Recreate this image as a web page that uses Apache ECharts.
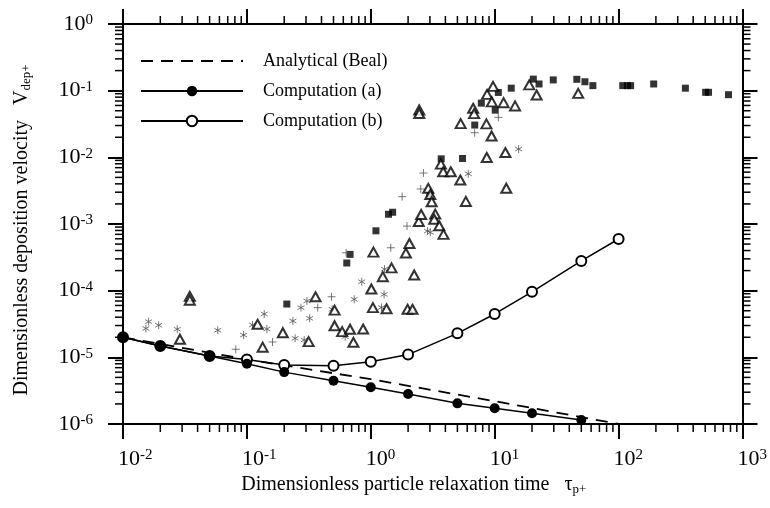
<!DOCTYPE html>
<html>
<head>
<meta charset="utf-8">
<script src="https://cdn.jsdelivr.net/npm/echarts@6/dist/echarts.min.js"></script>
<style>
  html, body { margin: 0; padding: 0; background: #fff; }
  #chart { width: 770px; height: 508px; }
</style>
</head>
<body>
<div id="chart"></div>
<script>
// Deposition velocity vs. particle relaxation time (log-log)

// Axis ranges
const xRange = [1e-2, 1e3];
const yRange = [1e-6, 1e0];

// Analytical model (Beal)
const bealTau = [0.01, 0.1, 1, 10, 100];
const bealV   = [2.0e-5, 9.3e-6, 4.7e-6, 2.2e-6, 1.0e-6];

// Computation (a)
const compATau = [0.01, 0.02, 0.05, 0.1, 0.2, 0.5, 1, 2, 5, 10, 20, 50];
const compAV   = [2.0e-5, 1.48e-5, 1.05e-5, 8.0e-6, 6.0e-6, 4.45e-6, 3.55e-6, 2.82e-6, 2.04e-6, 1.72e-6, 1.45e-6, 1.15e-6];

// Computation (b)
const compBTau = [0.01, 0.02, 0.05, 0.1, 0.2, 0.5, 1, 2, 5, 10, 20, 50, 100];
const compBV   = [2.0e-5, 1.48e-5, 1.05e-5, 9.3e-6, 7.7e-6, 7.5e-6, 8.6e-6, 1.1e-5, 2.29e-5, 4.47e-5, 9.6e-5, 2.79e-4, 5.96e-4];

// Experimental data sets: [tau_p+, V_dep+]
const expSquares = [
  [0.21, 6.3e-5], [0.64, 2.6e-4], [0.68, 3.5e-4], [1.10, 7.9e-4], [1.39, 1.4e-3], [1.50, 1.5e-3],
  [3.0, 2.7e-3], [3.7, 9.5e-3], [5.5, 9.6e-3], [6.9, 3.05e-2], [7.8, 6.5e-2], [10.1, 5.1e-2],
  [10.7, 9.4e-2], [13.6, 0.109], [20.5, 0.149], [22.8, 0.126], [29.7, 0.145], [46, 0.148],
  [53.5, 0.136], [62, 0.119], [108, 0.119], [118, 0.119], [125, 0.119], [192, 0.126],
  [346, 0.109], [504, 0.0945], [532, 0.0945], [771, 0.087]
];
const expTriangles = [
  [0.0346, 8.2e-5], [0.0346, 7.2e-5], [0.0288, 1.87e-5], [0.122, 3.13e-5], [0.134, 1.42e-5],
  [0.195, 2.34e-5], [0.315, 1.72e-5], [0.358, 8.1e-5], [0.51, 5.1e-5], [0.51, 2.98e-5],
  [0.587, 2.43e-5], [0.68, 2.64e-5], [0.724, 1.68e-5], [0.867, 2.66e-5], [1.01, 1.06e-4],
  [1.04, 5.56e-5], [1.34, 5.35e-5], [1.25, 1.62e-4], [1.47, 2.2e-4], [1.98, 5.26e-5],
  [2.17, 5.26e-5], [1.05, 3.78e-4], [2.24, 1.72e-4], [1.92, 3.67e-4], [2.05, 5.1e-4],
  [2.44, 1.09e-3], [2.55, 1.39e-3], [3.31, 1.41e-3], [3.25, 1.18e-3], [3.57, 9.4e-4],
  [3.86, 7.0e-4], [2.91, 3.43e-3], [3.02, 2.77e-3], [3.10, 2.16e-3], [3.68, 7.9e-3],
  [3.84, 6.07e-3], [4.42, 6.07e-3], [5.28, 4.57e-3], [5.85, 2.18e-3], [2.46, 5.13e-2],
  [2.46, 4.55e-2], [5.31, 3.2e-2], [6.70, 5.44e-2], [6.82, 4.52e-2], [8.57, 3.18e-2],
  [9.44, 2.09e-2], [8.68, 8.8e-2], [9.70, 0.116], [9.48, 6.8e-2], [11.8, 6.6e-2],
  [14.6, 5.9e-2], [19.0, 0.122], [21.8, 8.6e-2], [47.2, 9.1e-2], [12.2, 1.18e-2],
  [8.63, 9.95e-3], [12.4, 3.44e-3]
];
const expPlus = [
  [0.0813, 1.32e-5], [0.161, 1.70e-5], [0.373, 5.56e-5], [0.482, 8.1e-5], [0.632, 3.7e-4],
  [1.45, 4.4e-4], [1.96, 9.3e-4], [1.79, 2.57e-3], [2.53, 3.35e-3], [2.66, 5.82e-3],
  [6.89, 2.34e-2], [10.7, 3.98e-2]
];
const expStars = [
  [0.0153, 2.71e-5], [0.0161, 3.43e-5], [0.0194, 3.03e-5], [0.0274, 2.64e-5], [0.0582, 2.55e-5],
  [0.094, 2.16e-5], [0.111, 3.06e-5], [0.138, 4.47e-5], [0.145, 2.66e-5], [0.235, 3.51e-5],
  [0.245, 1.93e-5], [0.273, 5.56e-5], [0.305, 7.0e-5], [0.321, 3.85e-5], [0.290, 1.82e-5],
  [0.488, 5.26e-5], [0.621, 2.04e-5], [0.735, 7.43e-5], [0.845, 1.36e-4], [1.28, 8.8e-5],
  [1.22, 5.6e-5], [1.29, 2.1e-4], [2.87, 7.85e-4], [3.02, 7.5e-4], [6.12, 5.66e-3],
  [15.6, 1.33e-2]
];

const SERIF = '"Liberation Serif", "Times New Roman", "DejaVu Serif", serif';
const INK = '#000';
const GREY = '#555';

const zip = (xs, ys) => xs.map((x, i) => [x, ys[i]]);

// "10" with the decade exponent as a superscript
function decadeLabel(v) {
  const e = Math.round(Math.log10(v));
  return '{b|10}{s|' + e + '}';
}
const decadeRich = {
  b: { fontFamily: SERIF, fontSize: 22, color: INK },
  s: { fontFamily: SERIF, fontSize: 15, color: INK, verticalAlign: 'top' }
};
const titleRich = {
  t: { fontFamily: SERIF, fontSize: 20, color: INK },
  u: { fontFamily: SERIF, fontSize: 13, color: INK, verticalAlign: 'bottom', padding: [10, 0, 0, 0] }
};

// Minor decade ticks (2..9 x 10^k) drawn outside every frame edge
function minorValues(lo, hi) {
  const out = [];
  for (let k = Math.round(Math.log10(lo)); k < Math.round(Math.log10(hi)); k++) {
    for (let m = 2; m <= 9; m++) out.push(m * Math.pow(10, k));
  }
  return out;
}
const xMinor = minorValues(xRange[0], xRange[1]);
const yMinor = minorValues(yRange[0], yRange[1]);
const MINOR_LEN = 8;

function renderMinorTicks(params, api) {
  const kids = [];
  const seg = (x1, y1, x2, y2) => kids.push({
    type: 'line',
    shape: { x1, y1, x2, y2 },
    style: { stroke: INK, lineWidth: 1.5 }
  });
  xMinor.forEach(v => {
    const b = api.coord([v, yRange[0]]);
    const t = api.coord([v, yRange[1]]);
    seg(b[0], b[1], b[0], b[1] + MINOR_LEN);
    seg(t[0], t[1], t[0], t[1] - MINOR_LEN);
  });
  yMinor.forEach(v => {
    const l = api.coord([xRange[0], v]);
    const r = api.coord([xRange[1], v]);
    seg(l[0], l[1], l[0] - MINOR_LEN, l[1]);
    seg(r[0], r[1], r[0] + MINOR_LEN, r[1]);
  });
  return { type: 'group', children: kids };
}

const frameLine = { onZero: false, lineStyle: { color: INK, width: 2 } };
const majorTick = { inside: false, length: 15, lineStyle: { color: INK, width: 2 } };

function logAxis(range, extra) {
  return Object.assign({
    type: 'log',
    logBase: 10,
    min: range[0],
    max: range[1],
    axisLine: frameLine,
    axisTick: majorTick,
    splitLine: { show: false },
    minorTick: { show: false },
    minorSplitLine: { show: false }
  }, extra);
}

const chart = echarts.init(document.getElementById('chart'), null, { renderer: 'canvas' });

chart.setOption({
  animation: false,
  backgroundColor: '#fff',
  grid: { left: 123, top: 24, width: 621, height: 400 },
  legend: {
    data: [
      { name: 'Analytical (Beal)', itemStyle: { opacity: 0 } },
      { name: 'Computation (a)' },
      { name: 'Computation (b)' }
    ],
    orient: 'vertical',
    left: 135,
    top: 47,
    itemWidth: 102,
    itemHeight: 13,
    itemGap: 12,
    selectedMode: false,
    textStyle: { fontFamily: SERIF, fontSize: 18, color: INK, padding: [0, 0, 0, 15] }
  },
  xAxis: [
    logAxis(xRange, {
      position: 'bottom',
      axisLabel: {
        formatter: decadeLabel, rich: decadeRich, margin: 24,
        align: 'left', padding: [0, 0, 0, -5]
      },
      name: '{t|Dimensionless particle relaxation time}{t|   \u03c4}{u|p+}',
      nameLocation: 'middle',
      nameGap: 37,
      nameTextStyle: { rich: titleRich, padding: [0, 38, 0, 0] }
    }),
    logAxis(xRange, { position: 'top', axisLabel: { show: false } })
  ],
  yAxis: [
    logAxis(yRange, {
      position: 'left',
      axisLabel: { formatter: decadeLabel, rich: decadeRich, margin: 30 },
      name: '{t|Dimensionless deposition velocity}{t|   V}{u|dep+}',
      nameLocation: 'middle',
      nameRotate: 90,
      nameGap: 90,
      nameTextStyle: { rich: titleRich, padding: [0, 12, 0, 0] }
    }),
    logAxis(yRange, { position: 'right', axisLabel: { show: false } })
  ],
  series: [
    {
      type: 'custom',
      name: 'minor ticks',
      coordinateSystem: 'cartesian2d',
      silent: true,
      clip: false,
      data: [[1, 1e-3]],
      renderItem: renderMinorTicks
    },
    {
      type: 'scatter',
      name: 'squares',
      data: expSquares,
      symbol: 'rect',
      symbolSize: 7,
      itemStyle: { color: INK },
      z: 2
    },
    {
      type: 'scatter',
      name: 'triangles',
      data: expTriangles,
      symbol: 'triangle',
      symbolSize: [10, 9],
      itemStyle: { color: '#fff', borderColor: INK, borderWidth: 2 },
      z: 3
    },
    {
      type: 'scatter',
      name: 'plus',
      data: expPlus,
      symbol: 'path://M5,0L5,10M0,5L10,5',
      symbolSize: 8,
      itemStyle: { color: 'transparent', borderColor: GREY, borderWidth: 1 },
      z: 2
    },
    {
      type: 'scatter',
      name: 'stars',
      data: expStars,
      symbol: 'path://M5,0L5,10M0.67,2.5L9.33,7.5M0.67,7.5L9.33,2.5',
      symbolKeepAspect: true,
      symbolSize: 8,
      itemStyle: { color: 'transparent', borderColor: GREY, borderWidth: 1 },
      z: 2
    },
    {
      type: 'line',
      name: 'Analytical (Beal)',
      data: zip(bealTau, bealV),
      symbol: 'none',
      lineStyle: { color: INK, width: 1.8, type: [12, 8] },
      itemStyle: { color: INK, opacity: 0 },
      z: 4
    },
    {
      type: 'line',
      name: 'Computation (b)',
      data: zip(compBTau, compBV),
      symbol: 'emptyCircle',
      symbolSize: 10,
      lineStyle: { color: INK, width: 1.5 },
      itemStyle: { color: INK, borderColor: INK, borderWidth: 1.5 },
      z: 5
    },
    {
      type: 'line',
      name: 'Computation (a)',
      data: zip(compATau, compAV),
      symbol: 'circle',
      symbolSize: 10,
      lineStyle: { color: INK, width: 1.5 },
      itemStyle: { color: INK },
      z: 6
    }
  ]
});
</script>
</body>
</html>
